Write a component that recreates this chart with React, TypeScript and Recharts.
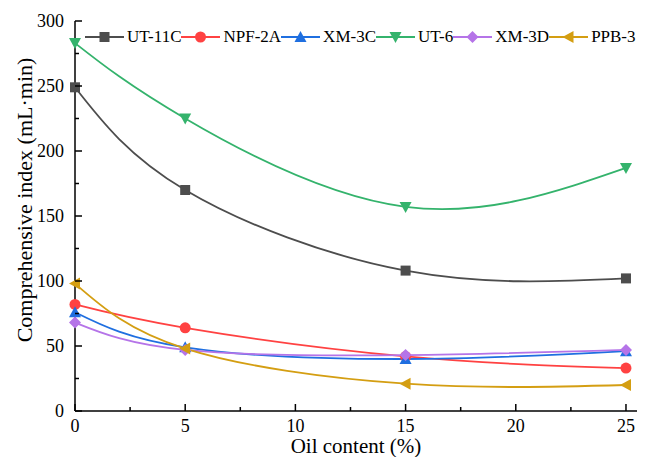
import { Legend, Line, LineChart, XAxis, YAxis, Label } from 'recharts';

const oilContent = [0, 5, 15, 25];
const ut11c = [249, 170, 108, 102];
const npf2a = [82, 64, 42, 33];
const xm3c = [76, 49, 40, 46];
const ut6 = [283, 225, 157, 187];
const xm3d = [68, 47, 43, 47];
const ppb3 = [98, 48, 21, 20];

const xTicks = [0, 2.5, 5, 7.5, 10, 12.5, 15, 17.5, 20, 22.5, 25];
const yTicks = [0, 25, 50, 75, 100, 125, 150, 175, 200, 225, 250, 275, 300];

const SERIES = [
    { key: 'ut11c', name: 'UT-11C', color: '#4d4d4d', marker: 'square', values: ut11c },
    { key: 'npf2a', name: 'NPF-2A', color: '#ff4242', marker: 'circle', values: npf2a },
    { key: 'xm3c', name: 'XM-3C', color: '#1f6fe0', marker: 'up', values: xm3c },
    { key: 'ut6', name: 'UT-6', color: '#34b36c', marker: 'down', values: ut6 },
    { key: 'xm3d', name: 'XM-3D', color: '#b574e8', marker: 'diamond', values: xm3d },
    { key: 'ppb3', name: 'PPB-3', color: '#d49e12', marker: 'left', values: ppb3 },
];

const data = oilContent.map((oil, i) => {
    const row: Record<string, number> = { oil };
    SERIES.forEach((s) => (row[s.key] = s.values[i]));
    return row;
});

const FONT = '"Liberation Serif", serif';

const Marker = ({ type, cx, cy, color, s = 5 }: { type: string; cx: number; cy: number; color: string; s?: number }) => {
    switch (type) {
        case 'square':
            return <rect x={cx - s} y={cy - s} width={s * 2} height={s * 2} fill={color} />;
        case 'circle':
            return <circle cx={cx} cy={cy} r={s + 0.5} fill={color} />;
        case 'up':
            return <polygon points={`${cx},${cy - s - 1} ${cx + s + 1},${cy + s} ${cx - s - 1},${cy + s}`} fill={color} />;
        case 'down':
            return <polygon points={`${cx},${cy + s + 1} ${cx + s + 1},${cy - s} ${cx - s - 1},${cy - s}`} fill={color} />;
        case 'diamond':
            return <polygon points={`${cx},${cy - s - 1} ${cx + s + 1},${cy} ${cx},${cy + s + 1} ${cx - s - 1},${cy}`} fill={color} />;
        default:
            return <polygon points={`${cx - s - 1},${cy} ${cx + s},${cy - s - 1} ${cx + s},${cy + s + 1}`} fill={color} />;
    }
};

// ticks point inwards, labels only on the major ones
const XTick = ({ x, y, payload }: any) => {
    const major = payload.value % 5 === 0;
    return (
        <g>
            <line x1={x} x2={x} y1={y} y2={y - (major ? 7 : 4)} stroke="#000" strokeWidth={1.5} />
            {major && (
                <text x={x} y={y + 21} textAnchor="middle" fontSize={18} fontFamily={FONT} fill="#000">
                    {payload.value}
                </text>
            )}
        </g>
    );
};

const YTick = ({ x, y, payload }: any) => {
    const major = payload.value % 50 === 0;
    return (
        <g>
            <line x1={x} x2={x + (major ? 7 : 4)} y1={y} y2={y} stroke="#000" strokeWidth={1.5} />
            {major && (
                <text x={x - 11} y={y + 6} textAnchor="end" fontSize={18} fontFamily={FONT} fill="#000">
                    {payload.value}
                </text>
            )}
        </g>
    );
};

const LegendRow = () => (
    <div style={{ display: 'flex', alignItems: 'center', fontFamily: FONT, fontSize: 17, color: '#000' }}>
        {SERIES.map((s) => (
            <div key={s.key} style={{ display: 'flex', alignItems: 'center' }}>
                <svg width={39} height={14}>
                    <line x1={0} x2={39} y1={7} y2={7} stroke={s.color} strokeWidth={2} />
                    <Marker type={s.marker} cx={19.5} cy={7} color={s.color} />
                </svg>
                <span style={{ marginLeft: 3, lineHeight: '20px' }}>{s.name}</span>
            </div>
        ))}
    </div>
);

const YTitle = ({ viewBox }: any) => {
    const x = viewBox.x + 24;
    const y = viewBox.y + viewBox.height / 2 - 16;
    return (
        <text x={x} y={y} transform={`rotate(-90, ${x}, ${y})`} textAnchor="middle" dominantBaseline="central" fontSize={22} fontFamily={FONT} fill="#000">
            Comprehensive index (mL·min)
        </text>
    );
};

export default function App() {
    return (
        <div style={{ position: 'absolute', left: 0, top: 0, width: 648, height: 457, background: '#fff' }}>
            <LineChart width={648} height={457} data={data} margin={{ top: 21, right: 11, bottom: 0, left: 0 }}>
                <XAxis
                    dataKey="oil"
                    type="number"
                    domain={[0, 25.5]}
                    ticks={xTicks}
                    tickSize={0}
                    tickMargin={0}
                    tickLine={false}
                    tick={<XTick />}
                    height={46}
                    stroke="#000"
                    strokeWidth={1.5}
                    interval={0}
                >
                    <Label value="Oil content (%)" position="insideBottom" offset={4} fontSize={21} fontFamily={FONT} fill="#000" />
                </XAxis>
                <XAxis xAxisId="top" orientation="top" dataKey="oil" type="number" domain={[0, 25.5]} tick={false} tickLine={false} height={0} stroke="#000" strokeWidth={1.5} />
                <YAxis
                    type="number"
                    domain={[0, 300]}
                    ticks={yTicks}
                    tickSize={0}
                    tickMargin={0}
                    tickLine={false}
                    tick={<YTick />}
                    width={75}
                    stroke="#000"
                    strokeWidth={1.5}
                    interval={0}
                >
                    <Label content={<YTitle />} position="insideLeft" />
                </YAxis>
                <YAxis yAxisId="right" orientation="right" domain={[0, 300]} tick={false} tickLine={false} width={0} stroke="#000" strokeWidth={1.5} />
                <Legend
                    layout="horizontal"
                    verticalAlign="middle"
                    align="center"
                    wrapperStyle={{ top: 27, left: 85, width: 'auto' }}
                    content={<LegendRow />}
                />
                {SERIES.map((s) => (
                    <Line
                        key={s.key}
                        dataKey={s.key}
                        name={s.name}
                        type="natural"
                        stroke={s.color}
                        strokeWidth={1.8}
                        isAnimationActive={false}
                        dot={(p: any) => <Marker key={`${s.key}-${p.index}`} type={s.marker} cx={p.cx} cy={p.cy} color={s.color} />}
                        activeDot={false}
                    />
                ))}
            </LineChart>
        </div>
    );
}
